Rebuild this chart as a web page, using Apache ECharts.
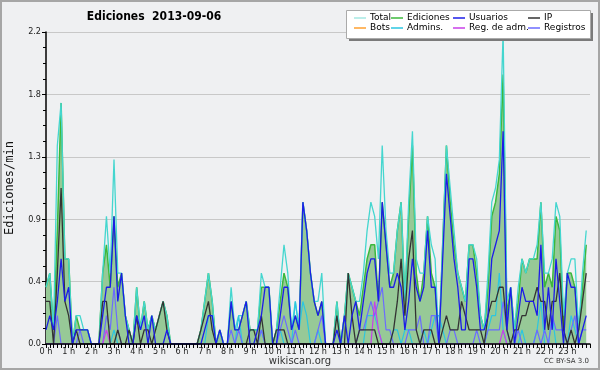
<!DOCTYPE html>
<html><head><meta charset="utf-8">
<script src="https://cdn.jsdelivr.net/npm/echarts@6/dist/echarts.min.js"></script>
<style>html,body{margin:0;padding:0;background:#eff0f2}#c{width:600px;height:370px}</style>
</head><body><div id="c"></div>
<script>
const hourLabels = ['0 h','1 h','2 h','3 h','4 h','5 h','6 h','7 h','8 h','9 h','10 h','11 h','12 h','13 h','14 h','15 h','16 h','17 h','18 h','19 h','20 h','21 h','22 h','23 h'];
const yTicks = [0, 0.44, 0.88, 1.32, 1.76, 2.2];

const usuarios = [
0.1,0.2,0.1,0.3,0.6,0.3,0.4,0,0.1,0.1,
0.1,0.1,0,0,0,0.2,0.4,0.4,0.9,0.3,
0.5,0.2,0,0,0.2,0.1,0.2,0,0.2,0,
0,0,0.1,0,0,0,0,0,0,0,
0,0,0.1,0.2,0.2,0,0.1,0,0,0.3,
0.1,0.1,0.2,0.3,0,0,0.1,0.2,0.4,0.4,
0,0,0.2,0.4,0.4,0.1,0.2,0.1,1.0,0.8,
0.5,0.3,0.2,0.3,0,0,0,0.1,0,0.2,
0,0.2,0.3,0.1,0.3,0.5,0.6,0.6,0.3,1.0,
0.7,0.4,0.4,0.5,0.4,0.1,0.3,0.6,0.4,0.3,
0.4,0.8,0.4,0.4,0,0.6,1.2,0.9,0.6,0.4,
0.1,0.1,0.6,0.6,0.4,0.1,0.1,0.2,0.6,0.7,
0.8,1.5,0.1,0.4,0,0.2,0.4,0.3,0.3,0.3,
0.2,0.7,0.1,0.4,0.1,0.6,0.3,0,0.5,0.4,
0.4,0,0.1,0.2];

const ip = [
0.3,0.3,0,0.5,1.1,0.3,0.2,0,0.1,0,
0,0,0,0,0,0.3,0.3,0,0,0.1,
0,0,0.1,0,0.2,0,0.1,0.1,0,0.1,
0.2,0.3,0.1,0,0,0,0,0,0,0,
0,0.1,0.2,0.3,0.1,0,0,0,0,0,
0,0,0,0,0.1,0.1,0,0.2,0,0,
0,0.1,0.1,0.1,0,0,0,0,0,0,
0,0,0,0,0,0,0,0.2,0,0,
0.5,0.2,0,0.1,0.1,0.1,0.1,0.1,0,0,
0,0,0.1,0.3,0.6,0.2,0.6,0.8,0.1,0,
0.1,0.1,0.1,0,0,0.1,0.2,0.1,0.1,0.1,
0.3,0.2,0.1,0.1,0.1,0.1,0,0.2,0.3,0.3,
0.4,0.4,0.1,0,0.1,0.1,0.2,0.2,0.3,0.3,
0.4,0.3,0.3,0.1,0.3,0.3,0.5,0.1,0,0.1,
0,0.1,0.3,0.5];

const ediciones = [
0.4,0.5,0.1,0.8,1.7,0.6,0.6,0,0.2,0.1,
0.1,0.1,0,0,0,0.5,0.7,0.4,0.9,0.4,
0.5,0.2,0.1,0,0.4,0.1,0.3,0.1,0.2,0.1,
0.2,0.3,0.2,0,0,0,0,0,0,0,
0,0.1,0.3,0.5,0.3,0,0.1,0,0,0.3,
0.1,0.1,0.2,0.3,0.1,0.1,0.1,0.4,0.4,0.4,
0,0.1,0.3,0.5,0.4,0.1,0.2,0.1,1.0,0.8,
0.5,0.3,0.2,0.3,0,0,0,0.3,0,0.2,
0.5,0.4,0.3,0.2,0.4,0.6,0.7,0.7,0.3,1.0,
0.7,0.4,0.5,0.8,1.0,0.3,0.9,1.4,0.5,0.3,
0.5,0.9,0.5,0.4,0,0.7,1.4,1.0,0.7,0.5,
0.4,0.3,0.7,0.7,0.5,0.2,0.1,0.4,0.9,1.0,
1.2,1.9,0.2,0.4,0.1,0.3,0.6,0.5,0.6,0.6,
0.6,1.0,0.4,0.5,0.4,0.9,0.8,0.1,0.5,0.5,
0.4,0.1,0.4,0.7];

const total = [
0.4,0.5,0.1,1.4,1.7,0.6,0.6,0,0.2,0.2,
0.1,0.1,0,0,0,0.5,0.9,0.5,1.3,0.5,
0.5,0.2,0.1,0,0.4,0.1,0.3,0.1,0.2,0.1,
0.2,0.3,0.2,0,0,0,0,0,0,0,
0,0.1,0.3,0.5,0.3,0,0.1,0,0,0.4,
0.1,0.2,0.2,0.3,0.1,0.1,0.1,0.5,0.4,0.4,
0,0.1,0.4,0.7,0.5,0.1,0.3,0.1,1.0,0.8,
0.5,0.3,0.3,0.5,0,0,0,0.3,0,0.2,
0.5,0.4,0.3,0.3,0.5,0.8,1.0,0.9,0.6,1.4,
0.8,0.5,0.5,0.8,1.0,0.3,1.0,1.5,0.6,0.5,
0.5,0.9,0.7,0.6,0,0.7,1.4,1.1,0.8,0.5,
0.4,0.3,0.7,0.7,0.6,0.2,0.1,0.5,1.0,1.1,
1.3,2.2,0.3,0.4,0.1,0.4,0.6,0.5,0.6,0.6,
0.7,1.0,0.5,0.5,0.6,1.0,0.9,0.2,0.5,0.6,
0.6,0.1,0.5,0.8];

const registros = [
0,0,0,0.2,0,0,0,0,0,0.1,
0,0,0,0,0,0,0.2,0.1,0.4,0.1,
0,0,0,0,0,0,0,0,0,0,
0,0,0,0,0,0,0,0,0,0,
0,0,0,0,0,0,0,0,0,0.1,
0,0.1,0,0,0,0,0,0.1,0,0,
0,0,0.1,0.2,0.1,0,0.1,0,0,0,
0,0,0.1,0.2,0,0,0,0,0,0,
0,0,0,0.1,0.1,0.2,0.3,0.2,0.3,0.4,
0.1,0.1,0,0,0,0,0.1,0.1,0.1,0.2,
0,0,0.2,0.2,0,0,0,0.1,0.1,0,
0,0,0,0,0.1,0,0,0.1,0.1,0.1,
0.1,0.3,0.1,0,0,0.1,0,0,0,0,
0.1,0,0.1,0,0.2,0.1,0.1,0.1,0,0.1,
0.2,0,0.1,0.1];

const admins = [
0,0,0,0,0,0,0,0,0,0,
0,0,0,0,0,0,0,0,0.1,0,
0,0,0,0,0,0,0,0,0,0,
0,0,0,0,0,0,0,0,0,0,
0,0,0,0.2,0.2,0,0,0,0,0,
0,0.2,0,0,0,0,0,0.1,0,0,
0,0,0.1,0,0,0,0.3,0.1,0.3,0.2,
0,0,0.1,0,0,0,0,0,0,0,
0,0,0,0,0,0.2,0.2,0.2,0.1,0,
0,0,0.1,0.1,0,0.1,0.1,0,0,0,
0.1,0,0.1,0.2,0.2,0.1,0,0,0,0,
0,0,0,0,0,0,0,0.1,0.2,0.2,
0.5,0.1,0,0,0,0,0.1,0,0,0,
0.1,0.3,0,0,0.2,0,0,0,0,0.2,
0.1,0,0,0];

const regAdm = [
0,0,0,0,0,0,0,0,0,0,
0,0,0,0,0,0,0.1,0,0,0,
0,0,0,0,0,0,0,0,0,0,
0,0,0,0,0,0,0,0,0,0,
0,0,0,0,0,0,0,0,0,0,
0,0,0,0,0,0,0,0,0,0,
0,0,0,0,0,0,0,0,0,0,
0,0,0,0,0,0,0,0,0,0,
0,0,0,0,0,0,0,0.3,0.1,0,
0,0,0,0,0,0,0,0,0,0,
0,0,0,0,0,0,0,0,0,0,
0,0,0,0,0,0,0,0,0,0,
0,0.1,0,0,0,0,0,0,0,0,
0,0,0,0,0,0,0,0,0,0,
0,0,0,0];

const bots = [];

// 10-minute slots over the day, plus the closing 24:00 edge
const times = [];
for (let h = 0; h <= 24; h++) {
  for (let m = 0; m < 60; m += 10) {
    if (h === 24 && m > 0) break;
    times.push(String(h).padStart(2,'0') + ':' + String(m).padStart(2,'0'));
  }
}

const chart = echarts.init(document.getElementById('c'), null, {renderer:'canvas'});
const FONT = 'DejaVu Sans Condensed, DejaVu Sans, sans-serif';

function line(name, data, color, width, z, extra) {
  return Object.assign({
    name, type:'line', data, symbol:'none', showSymbol:false, z,
    lineStyle:{color, width}, itemStyle:{color}, emphasis:{disabled:true}
  }, extra || {});
}

const legendCommon = {
  orient:'vertical', top:13, itemGap:0, itemWidth:12, itemHeight:1.5, icon:'rect',
  padding:0, selectedMode:false,
  textStyle:{fontSize:9, color:'#000', fontFamily:'DejaVu Sans', padding:[0,0,0,-1], lineHeight:10}
};

chart.setOption({
  animation:false,
  backgroundColor:'#eff0f2',
  grid:{left:46, right:10, top:32, bottom:26, containLabel:false, outerBoundsMode:'none'},
  xAxis:{
    type:'category', data:times, boundaryGap:false, z:5,
    axisLine:{lineStyle:{color:'#000', width:1.5}},
    axisTick:{interval:0, length:4, lineStyle:{color:'#000'}},
    axisLabel:{interval:0, margin:3, fontSize:9, color:'#222', fontFamily:FONT,
      formatter:(v,i)=> (i % 6 === 0 && i < 144) ? hourLabels[i/6] : ''},
    splitLine:{show:false}
  },
  yAxis:{
    type:'value', min:yTicks[0], max:yTicks[yTicks.length-1], interval:yTicks[1],
    axisLine:{show:true, lineStyle:{color:'#000', width:1.5}},
    axisTick:{show:true, length:4, lineStyle:{color:'#000'}},
    minorTick:{show:true, splitNumber:4, length:3, lineStyle:{color:'#000'}},
    splitLine:{lineStyle:{color:'#c8c8c8'}},
    axisLabel:{formatter:v=>v.toFixed(1), fontSize:9, color:'#222', margin:5, fontFamily:FONT},
    name:'Ediciones/min', nameLocation:'middle', nameGap:30,
    nameTextStyle:{fontFamily:'DejaVu Sans Mono', fontSize:12, color:'#111'}
  },
  legend:[
    Object.assign({left:354, data:[{name:'Total', itemStyle:{color:'#a6e9e3'}}, 'Bots']}, legendCommon),
    Object.assign({left:391, data:['Ediciones', 'Admins.']}, legendCommon),
    Object.assign({left:453, data:['Usuarios', 'Reg. de adm.']}, legendCommon),
    Object.assign({left:528, data:['IP', 'Registros']}, legendCommon)
  ],
  graphic:[
    {type:'rect', z:3, shape:{x:349, y:13, width:244, height:28}, style:{fill:'#7a7a7a'}},
    {type:'rect', z:3, shape:{x:346.5, y:10.5, width:244, height:28}, style:{fill:'#ffffff', stroke:'#aaaaaa', lineWidth:1}},
    {type:'text', z:10, x:154, y:17, style:{text:'Ediciones  2013-09-06', font:'bold 12px ' + FONT, fill:'#000', align:'center', verticalAlign:'middle'}},
    {type:'text', z:10, x:300, y:361, style:{text:'wikiscan.org', font:'10px DejaVu Sans', fill:'#333', align:'center', verticalAlign:'middle'}},
    {type:'text', z:10, x:589, y:361, style:{text:'CC BY-SA 3.0', font:'7px DejaVu Sans', fill:'#333', align:'right', verticalAlign:'middle'}},
    {type:'rect', z:20, shape:{x:1, y:1, width:598, height:368}, style:{fill:'none', stroke:'#a6a6a6', lineWidth:2}}
  ],
  series:[
    line('Ediciones', ediciones, '#3cb83c', 1.5, 2, {areaStyle:{color:'#97c997', opacity:1}}),
    line('Total', total, '#44d6cf', 1.3, 2),
    line('Admins.', admins, '#2cc6e0', 1.2, 2),
    line('Registros', registros, '#6b6bff', 1.2, 2),
    line('Reg. de adm.', regAdm, '#c840e8', 1.2, 2),
    line('Bots', bots, '#ffa030', 1.2, 2),
    line('IP', ip, '#333333', 1.3, 2),
    line('Usuarios', usuarios, '#1c1ce8', 1.3, 2)
  ]
});
</script>
</body></html>
